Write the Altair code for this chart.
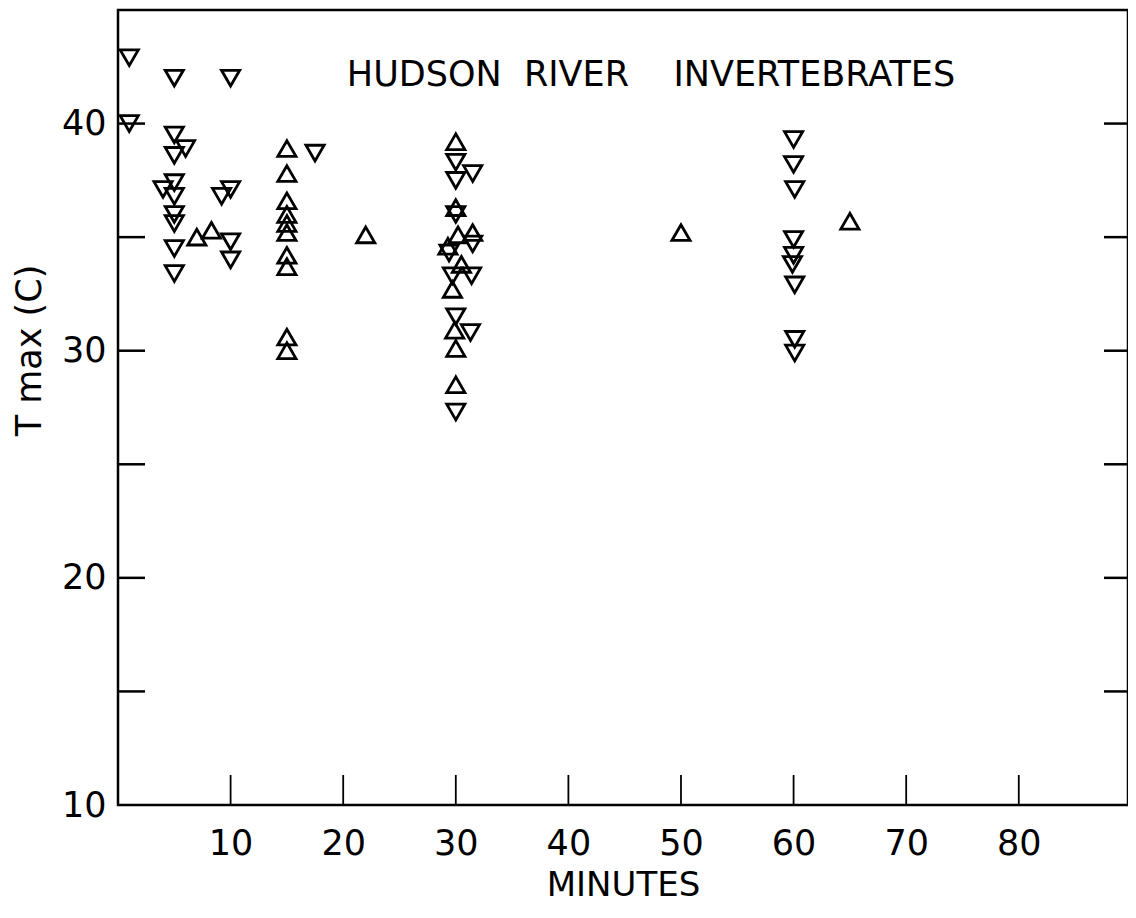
import altair as alt
import pandas as pd

# Downward-pointing triangles (minutes, Tmax C)
down_x = [1, 1, 5, 10, 5, 6, 5, 17.5, 5, 4, 5, 10, 9.2, 5, 5, 5, 5, 10, 10,
          30, 31.5, 30, 30, 31.5, 29.4, 29.7, 31.4, 30, 31.3, 30,
          60, 60, 60.1, 60, 60, 59.9, 60.1, 60.1, 60.1]
down_y = [42.9, 40.0, 42.0, 42.0, 39.5, 38.9, 38.6, 38.7, 37.4, 37.1, 36.8, 37.1, 36.8, 36.0, 35.6, 34.5, 33.4, 34.8, 34.0,
          38.3, 37.8, 37.5, 36.0, 34.7, 34.3, 33.3, 33.3, 31.5, 30.8, 27.3,
          39.3, 38.2, 37.1, 34.9, 34.2, 33.8, 32.9, 30.5, 29.9]

# Upward-pointing triangles
up_x = [15, 15, 15, 15, 15, 15, 15, 15, 15, 15, 8.3, 7, 22,
        30, 30, 30.2, 31.5, 29.3, 30.5, 29.7, 29.9, 30, 30,
        50, 65]
up_y = [38.9, 37.8, 36.6, 36.0, 35.6, 35.2, 34.2, 33.7, 30.6, 30.0, 35.3, 35.0, 35.1,
        39.2, 36.3, 35.1, 35.2, 34.6, 33.8, 32.7, 30.9, 30.1, 28.5,
        35.2, 35.7]

x_labels = [10, 20, 30, 40, 50, 60, 70, 80]
y_labels = [10, 20, 30, 40]
y_ticks = [15, 20, 25, 30, 35, 40]
title_text = "HUDSON\u00a0\u00a0RIVER\u00a0\u00a0\u00a0\u00a0INVERTEBRATES"

W, H = 1010, 795
FONT = "DejaVu Sans"

df = pd.concat([
    pd.DataFrame({"min": down_x, "t": down_y, "kind": "down"}),
    pd.DataFrame({"min": up_x, "t": up_y, "kind": "up"}),
])

xs = alt.Scale(domain=[0, 89.7], nice=False, zero=False)
ys = alt.Scale(domain=[10, 45], nice=False, zero=False)

x_axis = alt.Axis(values=x_labels, ticks=False, domain=False, grid=False,
                  labelFont=FONT, labelFontSize=35, labelColor="black", labelPadding=21,
                  title="MINUTES", titleFont=FONT, titleFontSize=34, titleFontWeight="normal",
                  titleColor="black", titleY=80, titleBaseline="middle")
y_axis = alt.Axis(values=y_labels, ticks=False, domain=False, grid=False,
                  labelFont=FONT, labelFontSize=35, labelColor="black", labelPadding=12,
                  title="T max (C)", titleFont=FONT, titleFontSize=35, titleFontWeight="normal",
                  titleColor="black", titleX=-89, titleY=340, titleBaseline="middle",
                  titleAlign="center", titleAngle=-90)

points = alt.Chart(df).mark_point(filled=False, stroke="black", strokeWidth=2.8, size=330, opacity=1).encode(
    x=alt.X("min:Q", scale=xs, axis=x_axis),
    y=alt.Y("t:Q", scale=ys, axis=y_axis),
    shape=alt.Shape("kind:N", scale=alt.Scale(domain=["up", "down"], range=["triangle-up", "triangle-down"]), legend=None),
)

yt = pd.DataFrame({"v": y_ticks})
xt = pd.DataFrame({"v": x_labels})

left_ticks = alt.Chart(yt).mark_rule(color="black", strokeWidth=2.5).encode(
    y=alt.Y("v:Q", scale=ys), x=alt.value(0), x2=alt.value(27))
right_ticks = alt.Chart(yt).mark_rule(color="black", strokeWidth=2.5).encode(
    y=alt.Y("v:Q", scale=ys), x=alt.value(W - 24), x2=alt.value(W))
bottom_ticks = alt.Chart(xt).mark_rule(color="black", strokeWidth=1.8).encode(
    x=alt.X("v:Q", scale=xs), y=alt.value(H - 30), y2=alt.value(H))

title = alt.Chart(pd.DataFrame({"t": [title_text]})).mark_text(
    font=FONT, fontSize=35, color="black", align="center", baseline="middle").encode(
    text="t:N", x=alt.value(533), y=alt.value(65))

chart = alt.layer(points, left_ticks, right_ticks, bottom_ticks, title).properties(
    width=W, height=H,
    autosize=alt.AutoSizeParams(type="none"),
    padding={"left": 110, "top": 2, "right": 0, "bottom": 103},
    background="white",
).configure_view(stroke="black", strokeWidth=2.5)

chart.save("out.html", embed_options={"renderer": "svg", "actions": False})
